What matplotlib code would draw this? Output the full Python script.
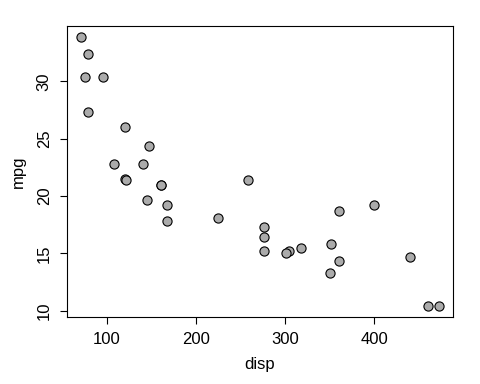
"""
mtcars: mpg vs disp, base R style scatter
"""
import matplotlib
matplotlib.use('Agg')
import matplotlib.pyplot as plt

disp = [160, 160, 108, 258, 360, 225, 360, 146.7, 140.8, 167.6, 167.6,
        275.8, 275.8, 275.8, 472, 460, 440, 78.7, 75.7, 71.1, 120.1, 318,
        304, 350, 400, 79, 120.3, 95.1, 351, 145, 301, 121]
mpg = [21.0, 21.0, 22.8, 21.4, 18.7, 18.1, 14.3, 24.4, 22.8, 19.2, 17.8,
       16.4, 17.3, 15.2, 10.4, 10.4, 14.7, 32.4, 30.4, 33.9, 21.5, 15.5,
       15.2, 13.3, 19.2, 27.3, 26.0, 30.4, 15.8, 19.7, 15.0, 21.4]
x_ticks = [100, 200, 300, 400]
y_ticks = [10, 15, 20, 25, 30]

plt.rcParams['font.family'] = ['Liberation Sans', 'DejaVu Sans']

fig = plt.figure(figsize=(4.8, 3.84), dpi=100)
ax = fig.add_axes([0.1396, 0.1745, 0.804, 0.7578])

ax.plot(disp, mpg, 'o', markersize=6.6, markerfacecolor='#ABABAB',
        markeredgecolor='black', markeredgewidth=0.8, linestyle='none')

# R style 4% padding
xr = max(disp) - min(disp)
yr = max(mpg) - min(mpg)
ax.set_xlim(min(disp) - 0.04 * xr, max(disp) + 0.04 * xr)
ax.set_ylim(min(mpg) - 0.04 * yr, max(mpg) + 0.04 * yr)

ax.set_xticks(x_ticks)
ax.set_yticks(y_ticks)
ax.tick_params(direction='out', length=5, width=0.8, labelsize=12, pad=6)
for lbl in ax.get_yticklabels():
    lbl.set_rotation(90)
    lbl.set_va('center')

for s in ax.spines.values():
    s.set_linewidth(0.8)

ax.set_xlabel('disp', fontsize=12, labelpad=7)
ax.set_ylabel('mpg', fontsize=12, labelpad=8)

fig.savefig('out.png', dpi=100)
